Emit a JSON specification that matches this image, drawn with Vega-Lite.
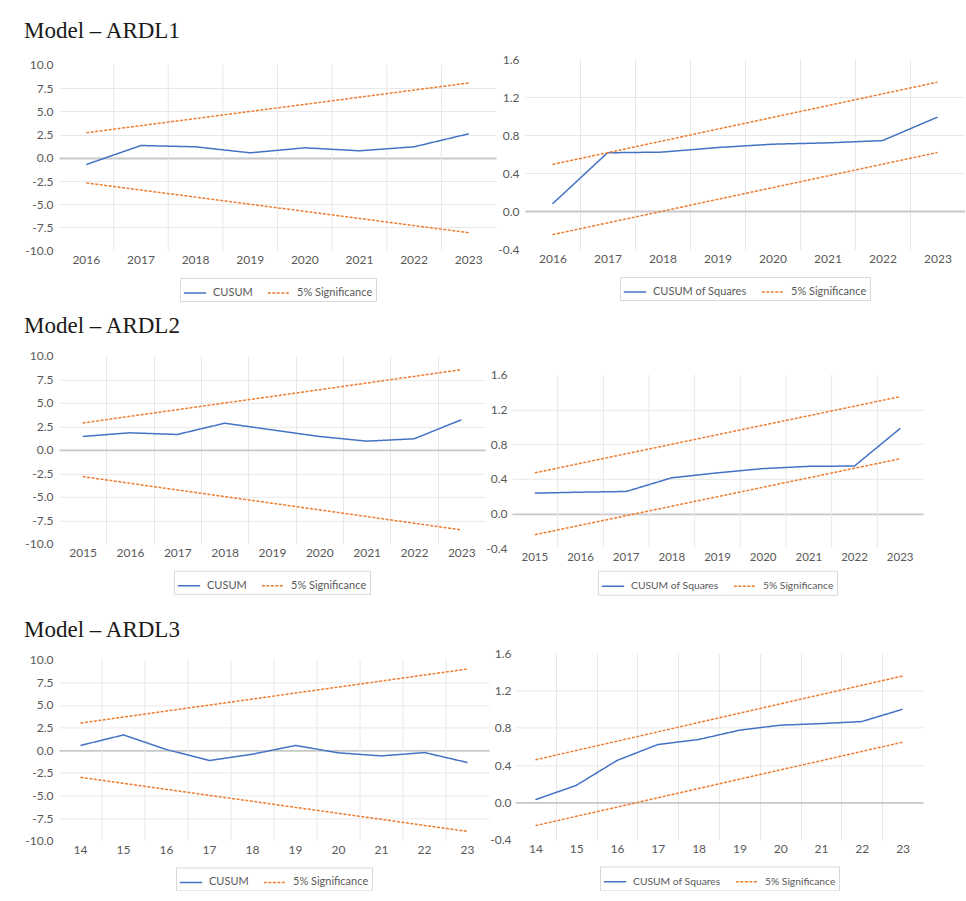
{
  "$schema": "https://vega.github.io/schema/vega-lite/v6.json",
  "padding": {"left": 24, "top": 19, "right": 0, "bottom": 0},
  "background": "#ffffff",
  "config": {
    "locale": {"number": {"decimal": ".", "thousands": ",", "grouping": [3], "currency": ["$", ""], "minus": "-"}},
    "view": {"stroke": null},
    "title": {"font": "Liberation Serif", "fontSize": 23, "fontWeight": "normal", "color": "#1a1a1a", "anchor": "start", "baseline": "alphabetic", "frame": "group"},
    "axis": {"labelFont": "Lato", "labelFontSize": 12, "labelColor": "#595959", "domain": false, "ticks": false, "title": null, "gridColor": "#e8e8e8"},
    "legend": {"orient": "bottom", "direction": "horizontal", "title": null, "strokeColor": "#d9d9d9", "padding": 3, "symbolType": "stroke", "symbolSize": 500, "symbolStrokeWidth": 1.5, "labelFont": "Lato", "labelFontSize": 11, "labelColor": "#595959", "columnPadding": 11, "labelOffset": 6, "offset": 12, "layout": {"bottom": {"anchor": "middle"}}}
  },
  "datasets": {
    "a1": [
      {"x":"2016","s":"CUSUM","b":"c","v":-0.72},{"x":"2017","s":"CUSUM","b":"c","v":1.33},{"x":"2018","s":"CUSUM","b":"c","v":1.19},{"x":"2019","s":"CUSUM","b":"c","v":0.54},{"x":"2020","s":"CUSUM","b":"c","v":1.08},{"x":"2021","s":"CUSUM","b":"c","v":0.76},{"x":"2022","s":"CUSUM","b":"c","v":1.19},{"x":"2023","s":"CUSUM","b":"c","v":2.59},
      {"x":"2016","s":"5% Significance","b":"u","v":2.70},{"x":"2017","s":"5% Significance","b":"u","v":3.47},{"x":"2018","s":"5% Significance","b":"u","v":4.23},{"x":"2019","s":"5% Significance","b":"u","v":5.00},{"x":"2020","s":"5% Significance","b":"u","v":5.76},{"x":"2021","s":"5% Significance","b":"u","v":6.53},{"x":"2022","s":"5% Significance","b":"u","v":7.30},{"x":"2023","s":"5% Significance","b":"u","v":8.06},
      {"x":"2016","s":"5% Significance","b":"l","v":-2.70},{"x":"2017","s":"5% Significance","b":"l","v":-3.47},{"x":"2018","s":"5% Significance","b":"l","v":-4.23},{"x":"2019","s":"5% Significance","b":"l","v":-5.00},{"x":"2020","s":"5% Significance","b":"l","v":-5.76},{"x":"2021","s":"5% Significance","b":"l","v":-6.53},{"x":"2022","s":"5% Significance","b":"l","v":-7.30},{"x":"2023","s":"5% Significance","b":"l","v":-8.06}
    ],
    "b1": [
      {"x":"2016","s":"CUSUM of Squares","b":"c","v":0.08},{"x":"2017","s":"CUSUM of Squares","b":"c","v":0.616},{"x":"2018","s":"CUSUM of Squares","b":"c","v":0.623},{"x":"2019","s":"CUSUM of Squares","b":"c","v":0.671},{"x":"2020","s":"CUSUM of Squares","b":"c","v":0.706},{"x":"2021","s":"CUSUM of Squares","b":"c","v":0.72},{"x":"2022","s":"CUSUM of Squares","b":"c","v":0.744},{"x":"2023","s":"CUSUM of Squares","b":"c","v":0.99},
      {"x":"2016","s":"5% Significance","b":"u","v":0.494},{"x":"2017","s":"5% Significance","b":"u","v":0.617},{"x":"2018","s":"5% Significance","b":"u","v":0.740},{"x":"2019","s":"5% Significance","b":"u","v":0.864},{"x":"2020","s":"5% Significance","b":"u","v":0.987},{"x":"2021","s":"5% Significance","b":"u","v":1.110},{"x":"2022","s":"5% Significance","b":"u","v":1.234},{"x":"2023","s":"5% Significance","b":"u","v":1.357},
      {"x":"2016","s":"5% Significance","b":"l","v":-0.243},{"x":"2017","s":"5% Significance","b":"l","v":-0.120},{"x":"2018","s":"5% Significance","b":"l","v":0.003},{"x":"2019","s":"5% Significance","b":"l","v":0.127},{"x":"2020","s":"5% Significance","b":"l","v":0.250},{"x":"2021","s":"5% Significance","b":"l","v":0.373},{"x":"2022","s":"5% Significance","b":"l","v":0.496},{"x":"2023","s":"5% Significance","b":"l","v":0.619}
    ],
    "a2": [
      {"x":"2015","s":"CUSUM","b":"c","v":1.42},{"x":"2016","s":"CUSUM","b":"c","v":1.81},{"x":"2017","s":"CUSUM","b":"c","v":1.63},{"x":"2018","s":"CUSUM","b":"c","v":2.83},{"x":"2019","s":"CUSUM","b":"c","v":2.12},{"x":"2020","s":"CUSUM","b":"c","v":1.42},{"x":"2021","s":"CUSUM","b":"c","v":0.92},{"x":"2022","s":"CUSUM","b":"c","v":1.17},{"x":"2023","s":"CUSUM","b":"c","v":3.19},
      {"x":"2015","s":"5% Significance","b":"u","v":2.85},{"x":"2016","s":"5% Significance","b":"u","v":3.56},{"x":"2017","s":"5% Significance","b":"u","v":4.27},{"x":"2018","s":"5% Significance","b":"u","v":4.98},{"x":"2019","s":"5% Significance","b":"u","v":5.68},{"x":"2020","s":"5% Significance","b":"u","v":6.39},{"x":"2021","s":"5% Significance","b":"u","v":7.10},{"x":"2022","s":"5% Significance","b":"u","v":7.81},{"x":"2023","s":"5% Significance","b":"u","v":8.52},
      {"x":"2015","s":"5% Significance","b":"l","v":-2.85},{"x":"2016","s":"5% Significance","b":"l","v":-3.56},{"x":"2017","s":"5% Significance","b":"l","v":-4.27},{"x":"2018","s":"5% Significance","b":"l","v":-4.98},{"x":"2019","s":"5% Significance","b":"l","v":-5.68},{"x":"2020","s":"5% Significance","b":"l","v":-6.39},{"x":"2021","s":"5% Significance","b":"l","v":-7.10},{"x":"2022","s":"5% Significance","b":"l","v":-7.81},{"x":"2023","s":"5% Significance","b":"l","v":-8.52}
    ],
    "b2": [
      {"x":"2015","s":"CUSUM of Squares","b":"c","v":0.234},{"x":"2016","s":"CUSUM of Squares","b":"c","v":0.245},{"x":"2017","s":"CUSUM of Squares","b":"c","v":0.253},{"x":"2018","s":"CUSUM of Squares","b":"c","v":0.411},{"x":"2019","s":"CUSUM of Squares","b":"c","v":0.468},{"x":"2020","s":"CUSUM of Squares","b":"c","v":0.517},{"x":"2021","s":"CUSUM of Squares","b":"c","v":0.543},{"x":"2022","s":"CUSUM of Squares","b":"c","v":0.547},{"x":"2023","s":"CUSUM of Squares","b":"c","v":0.98},
      {"x":"2015","s":"5% Significance","b":"u","v":0.468},{"x":"2016","s":"5% Significance","b":"u","v":0.578},{"x":"2017","s":"5% Significance","b":"u","v":0.688},{"x":"2018","s":"5% Significance","b":"u","v":0.798},{"x":"2019","s":"5% Significance","b":"u","v":0.908},{"x":"2020","s":"5% Significance","b":"u","v":1.018},{"x":"2021","s":"5% Significance","b":"u","v":1.127},{"x":"2022","s":"5% Significance","b":"u","v":1.237},{"x":"2023","s":"5% Significance","b":"u","v":1.347},
      {"x":"2015","s":"5% Significance","b":"l","v":-0.245},{"x":"2016","s":"5% Significance","b":"l","v":-0.136},{"x":"2017","s":"5% Significance","b":"l","v":-0.026},{"x":"2018","s":"5% Significance","b":"l","v":0.083},{"x":"2019","s":"5% Significance","b":"l","v":0.193},{"x":"2020","s":"5% Significance","b":"l","v":0.302},{"x":"2021","s":"5% Significance","b":"l","v":0.411},{"x":"2022","s":"5% Significance","b":"l","v":0.521},{"x":"2023","s":"5% Significance","b":"l","v":0.630}
    ],
    "a3": [
      {"x":"14","s":"CUSUM","b":"c","v":0.52},{"x":"15","s":"CUSUM","b":"c","v":1.69},{"x":"16","s":"CUSUM","b":"c","v":0.07},{"x":"17","s":"CUSUM","b":"c","v":-1.14},{"x":"18","s":"CUSUM","b":"c","v":-0.44},{"x":"19","s":"CUSUM","b":"c","v":0.52},{"x":"20","s":"CUSUM","b":"c","v":-0.29},{"x":"21","s":"CUSUM","b":"c","v":-0.63},{"x":"22","s":"CUSUM","b":"c","v":-0.26},{"x":"23","s":"CUSUM","b":"c","v":-1.36},
      {"x":"14","s":"5% Significance","b":"u","v":3.00},{"x":"15","s":"5% Significance","b":"u","v":3.66},{"x":"16","s":"5% Significance","b":"u","v":4.33},{"x":"17","s":"5% Significance","b":"u","v":4.99},{"x":"18","s":"5% Significance","b":"u","v":5.65},{"x":"19","s":"5% Significance","b":"u","v":6.32},{"x":"20","s":"5% Significance","b":"u","v":6.98},{"x":"21","s":"5% Significance","b":"u","v":7.64},{"x":"22","s":"5% Significance","b":"u","v":8.31},{"x":"23","s":"5% Significance","b":"u","v":8.97},
      {"x":"14","s":"5% Significance","b":"l","v":-3.00},{"x":"15","s":"5% Significance","b":"l","v":-3.66},{"x":"16","s":"5% Significance","b":"l","v":-4.33},{"x":"17","s":"5% Significance","b":"l","v":-4.99},{"x":"18","s":"5% Significance","b":"l","v":-5.65},{"x":"19","s":"5% Significance","b":"l","v":-6.32},{"x":"20","s":"5% Significance","b":"l","v":-6.98},{"x":"21","s":"5% Significance","b":"l","v":-7.64},{"x":"22","s":"5% Significance","b":"l","v":-8.31},{"x":"23","s":"5% Significance","b":"l","v":-8.97}
    ],
    "b3": [
      {"x":"14","s":"CUSUM of Squares","b":"c","v":0.029},{"x":"15","s":"CUSUM of Squares","b":"c","v":0.182},{"x":"16","s":"CUSUM of Squares","b":"c","v":0.45},{"x":"17","s":"CUSUM of Squares","b":"c","v":0.621},{"x":"18","s":"CUSUM of Squares","b":"c","v":0.675},{"x":"19","s":"CUSUM of Squares","b":"c","v":0.775},{"x":"20","s":"CUSUM of Squares","b":"c","v":0.829},{"x":"21","s":"CUSUM of Squares","b":"c","v":0.846},{"x":"22","s":"CUSUM of Squares","b":"c","v":0.868},{"x":"23","s":"CUSUM of Squares","b":"c","v":1.0},
      {"x":"14","s":"5% Significance","b":"u","v":0.457},{"x":"15","s":"5% Significance","b":"u","v":0.557},{"x":"16","s":"5% Significance","b":"u","v":0.657},{"x":"17","s":"5% Significance","b":"u","v":0.757},{"x":"18","s":"5% Significance","b":"u","v":0.857},{"x":"19","s":"5% Significance","b":"u","v":0.957},{"x":"20","s":"5% Significance","b":"u","v":1.057},{"x":"21","s":"5% Significance","b":"u","v":1.157},{"x":"22","s":"5% Significance","b":"u","v":1.257},{"x":"23","s":"5% Significance","b":"u","v":1.357},
      {"x":"14","s":"5% Significance","b":"l","v":-0.25},{"x":"15","s":"5% Significance","b":"l","v":-0.150},{"x":"16","s":"5% Significance","b":"l","v":-0.051},{"x":"17","s":"5% Significance","b":"l","v":0.049},{"x":"18","s":"5% Significance","b":"l","v":0.148},{"x":"19","s":"5% Significance","b":"l","v":0.248},{"x":"20","s":"5% Significance","b":"l","v":0.348},{"x":"21","s":"5% Significance","b":"l","v":0.447},{"x":"22","s":"5% Significance","b":"l","v":0.547},{"x":"23","s":"5% Significance","b":"l","v":0.646}
    ]
  },
  "resolve": {"scale": {"color": "independent", "strokeDash": "independent", "x": "independent", "y": "independent"}, "legend": {"color": "independent", "strokeDash": "independent"}},
  "columns": 1,
  "align": "none",
  "spacing": 22.4,
  "concat": [
    {
      "resolve": {"scale": {"color": "independent", "strokeDash": "independent", "x": "independent", "y": "independent"}, "legend": {"color": "independent", "strokeDash": "independent"}},
      "columns": 1,
      "align": "none",
      "spacing": 12.8,
      "concat": [
        {
          "resolve": {"scale": {"color": "independent", "strokeDash": "independent", "x": "independent", "y": "independent"}, "legend": {"color": "independent", "strokeDash": "independent"}},
          "columns": 2,
          "align": "none",
          "spacing": 1,
          "concat": [
            {
              "width": 437, "height": 191.7,
              "title": {"text": "Model – ARDL1", "dx": -35, "offset": 16.3},
              "data": {"name": "a1"},
              "layer": [
                {
                  "transform": [{"filter": "datum.b === 'c' && datum.x !== '2016'"}],
                  "mark": {"type": "rule", "color": "#e8e8e8", "strokeWidth": 1},
                  "encoding": {
                    "x": {"field": "x", "type": "ordinal", "bandPosition": 0, "scale": {"type": "band", "paddingInner": 0, "paddingOuter": 0}, "axis": {"labelAngle": 0, "labelPadding": 3.5, "grid": false, "bandPosition": 0.5}},
                    "y": {"datum": 10, "type": "quantitative", "scale": {"domain": [-10, 10.646], "nice": false}, "axis": {"values": [-10, -7.5, -5, -2.5, 0, 2.5, 5, 7.5, 10], "format": ".1f", "labelPadding": 6, "labelOverlap": false, "grid": true, "gridColor": {"condition": {"test": "datum.value === 0", "value": "#c8c8c8"}, "value": "#e8e8e8"}, "gridWidth": {"condition": {"test": "datum.value === 0", "value": 1.8}, "value": 1}, "gridOpacity": {"condition": {"test": "datum.value > 9.9 || datum.value < -9.9", "value": 0}, "value": 1}}},
                    "y2": {"datum": -10}
                  }
                },
                {
                  "mark": {"type": "line", "strokeWidth": 1.5},
                  "encoding": {
                    "x": {"field": "x", "type": "ordinal", "bandPosition": 0.5, "scale": {"type": "band", "paddingInner": 0, "paddingOuter": 0}, "axis": {"labelAngle": 0, "labelPadding": 3.5, "grid": false, "bandPosition": 0.5}},
                    "y": {"field": "v", "type": "quantitative", "scale": {"domain": [-10, 10.646], "nice": false}, "axis": {"values": [-10, -7.5, -5, -2.5, 0, 2.5, 5, 7.5, 10], "format": ".1f", "labelPadding": 6, "labelOverlap": false, "grid": true, "gridColor": {"condition": {"test": "datum.value === 0", "value": "#c8c8c8"}, "value": "#e8e8e8"}, "gridWidth": {"condition": {"test": "datum.value === 0", "value": 1.8}, "value": 1}, "gridOpacity": {"condition": {"test": "datum.value > 9.9 || datum.value < -9.9", "value": 0}, "value": 1}}},
                    "color": {"field": "s", "type": "nominal", "scale": {"domain": ["CUSUM", "5% Significance"], "range": ["#4472C4", "#ED7D31"]}},
                    "strokeDash": {"field": "s", "type": "nominal", "scale": {"domain": ["CUSUM", "5% Significance"], "range": [[1, 0], [3, 1.5]]}},
                    "detail": {"field": "b"}
                  }
                }
              ]
            },
            {
              "width": 440, "height": 190.6,
              "data": {"name": "b1"},
              "mark": {"type": "line", "strokeWidth": 1.5},
              "encoding": {
                "x": {"field": "x", "type": "ordinal", "bandPosition": 0.5, "scale": {"type": "band", "paddingInner": 0, "paddingOuter": 0}, "axis": {"labelAngle": 0, "tickBand": "extent", "labelPadding": 4, "grid": true, "gridOpacity": {"condition": {"test": "datum.extra || datum.value === '2023'", "value": 0}, "value": 1}}},
                "y": {"field": "v", "type": "quantitative", "scale": {"domain": [-0.4, 1.6], "nice": false, "zero": false}, "axis": {"values": [-0.4, 0, 0.4, 0.8, 1.2, 1.6], "format": ".1f", "labelPadding": 6, "grid": true, "gridColor": {"condition": {"test": "datum.value === 0", "value": "#c8c8c8"}, "value": "#e8e8e8"}, "gridWidth": {"condition": {"test": "datum.value === 0", "value": 1.8}, "value": 1}, "gridOpacity": {"condition": {"test": "datum.value > 1.55 || datum.value < -0.35", "value": 0}, "value": 1}}},
                "color": {"field": "s", "type": "nominal", "scale": {"domain": ["CUSUM of Squares", "5% Significance"], "range": ["#4472C4", "#ED7D31"]}},
                "strokeDash": {"field": "s", "type": "nominal", "scale": {"domain": ["CUSUM of Squares", "5% Significance"], "range": [[1, 0], [3, 1.5]]}},
                "detail": {"field": "b"}
              }
            }
          ]
        },
        {
          "resolve": {"scale": {"color": "independent", "strokeDash": "independent", "x": "independent", "y": "independent"}, "legend": {"color": "independent", "strokeDash": "independent"}},
          "columns": 2,
          "align": "none",
          "spacing": 0,
          "concat": [
            {
              "width": 426, "height": 188,
              "title": {"text": "Model – ARDL2", "dx": -35, "offset": 11.6},
              "data": {"name": "a2"},
              "mark": {"type": "line", "strokeWidth": 1.5},
              "encoding": {
                "x": {"field": "x", "type": "ordinal", "bandPosition": 0.5, "scale": {"type": "band", "paddingInner": 0, "paddingOuter": 0}, "axis": {"labelAngle": 0, "tickBand": "extent", "labelPadding": 3.5, "grid": true, "gridOpacity": {"condition": {"test": "datum.extra || datum.value === '2023'", "value": 0}, "value": 1}}},
                "y": {"field": "v", "type": "quantitative", "scale": {"domain": [-10, 10], "nice": false}, "axis": {"values": [-10, -7.5, -5, -2.5, 0, 2.5, 5, 7.5, 10], "format": ".1f", "labelPadding": 6, "grid": true, "gridColor": {"condition": {"test": "datum.value === 0", "value": "#c8c8c8"}, "value": "#e8e8e8"}, "gridWidth": {"condition": {"test": "datum.value === 0", "value": 1.8}, "value": 1}, "gridOpacity": {"condition": {"test": "datum.value > 9.9 || datum.value < -9.9", "value": 0}, "value": 1}}},
                "color": {"field": "s", "type": "nominal", "scale": {"domain": ["CUSUM", "5% Significance"], "range": ["#4472C4", "#ED7D31"]}},
                "strokeDash": {"field": "s", "type": "nominal", "scale": {"domain": ["CUSUM", "5% Significance"], "range": [[1, 0], [3, 1.5]]}},
                "detail": {"field": "b"}
              }
            },
            {
              "width": 411, "height": 192.3,
              "data": {"name": "b2"},
              "layer": [
                {
                  "transform": [{"filter": "datum.b === 'c' && datum.x !== '2015'"}],
                  "mark": {"type": "rule", "color": "#e8e8e8", "strokeWidth": 1},
                  "encoding": {
                    "x": {"field": "x", "type": "ordinal", "bandPosition": 0, "scale": {"type": "band", "paddingInner": 0, "paddingOuter": 0}, "axis": {"labelAngle": 0, "labelPadding": 3.5, "labelFontSize": 11.5, "grid": false, "bandPosition": 0.5}},
                    "y": {"datum": 1.6, "type": "quantitative", "scale": {"domain": [-0.4, 1.818], "nice": false, "zero": false}, "axis": {"values": [-0.4, 0, 0.4, 0.8, 1.2, 1.6], "format": ".1f", "labelPadding": 5, "labelOverlap": false, "grid": true, "gridColor": {"condition": {"test": "datum.value === 0", "value": "#c8c8c8"}, "value": "#e8e8e8"}, "gridWidth": {"condition": {"test": "datum.value === 0", "value": 1.8}, "value": 1}, "gridOpacity": {"condition": {"test": "datum.value > 1.55 || datum.value < -0.35", "value": 0}, "value": 1}}},
                    "y2": {"datum": -0.4}
                  }
                },
                {
                  "mark": {"type": "line", "strokeWidth": 1.5},
                  "encoding": {
                    "x": {"field": "x", "type": "ordinal", "bandPosition": 0.5, "scale": {"type": "band", "paddingInner": 0, "paddingOuter": 0}, "axis": {"labelAngle": 0, "labelPadding": 3.5, "labelFontSize": 11.5, "grid": false, "bandPosition": 0.5}},
                    "y": {"field": "v", "type": "quantitative", "scale": {"domain": [-0.4, 1.818], "nice": false, "zero": false}, "axis": {"values": [-0.4, 0, 0.4, 0.8, 1.2, 1.6], "format": ".1f", "labelPadding": 5, "labelOverlap": false, "grid": true, "gridColor": {"condition": {"test": "datum.value === 0", "value": "#c8c8c8"}, "value": "#e8e8e8"}, "gridWidth": {"condition": {"test": "datum.value === 0", "value": 1.8}, "value": 1}, "gridOpacity": {"condition": {"test": "datum.value > 1.55 || datum.value < -0.35", "value": 0}, "value": 1}}},
                    "color": {"field": "s", "type": "nominal", "scale": {"domain": ["CUSUM of Squares", "5% Significance"], "range": ["#4472C4", "#ED7D31"]}, "legend": {"labelFontSize": 10.3, "offset": 7}},
                    "strokeDash": {"field": "s", "type": "nominal", "scale": {"domain": ["CUSUM of Squares", "5% Significance"], "range": [[1, 0], [3, 1.5]]}, "legend": {"labelFontSize": 10.3, "offset": 7}},
                    "detail": {"field": "b"}
                  }
                }
              ]
            }
          ]
        }
      ]
    },
    {
      "resolve": {"scale": {"color": "independent", "strokeDash": "independent", "x": "independent", "y": "independent"}, "legend": {"color": "independent", "strokeDash": "independent"}},
      "columns": 2,
      "align": "none",
      "spacing": 0,
      "concat": [
        {
          "width": 430, "height": 187.3,
          "title": {"text": "Model – ARDL3", "dx": -35, "offset": 11.1},
          "data": {"name": "a3"},
          "layer": [
            {
              "transform": [{"filter": "datum.b === 'c' && datum.x !== '14'"}],
              "mark": {"type": "rule", "color": "#e8e8e8", "strokeWidth": 1},
              "encoding": {
                "x": {"field": "x", "type": "ordinal", "bandPosition": 0, "scale": {"type": "band", "paddingInner": 0, "paddingOuter": 0}, "axis": {"labelAngle": 0, "labelPadding": 3.5, "grid": false, "bandPosition": 0.5}},
                "y": {"datum": 10, "type": "quantitative", "scale": {"domain": [-10, 10.696], "nice": false}, "axis": {"values": [-10, -7.5, -5, -2.5, 0, 2.5, 5, 7.5, 10], "format": ".1f", "labelPadding": 6, "labelOverlap": false, "grid": true, "gridColor": {"condition": {"test": "datum.value === 0", "value": "#c8c8c8"}, "value": "#e8e8e8"}, "gridWidth": {"condition": {"test": "datum.value === 0", "value": 1.8}, "value": 1}, "gridOpacity": {"condition": {"test": "datum.value > 9.9 || datum.value < -9.9", "value": 0}, "value": 1}}},
                "y2": {"datum": -10}
              }
            },
            {
              "mark": {"type": "line", "strokeWidth": 1.5},
              "encoding": {
                "x": {"field": "x", "type": "ordinal", "bandPosition": 0.5, "scale": {"type": "band", "paddingInner": 0, "paddingOuter": 0}, "axis": {"labelAngle": 0, "labelPadding": 3.5, "grid": false, "bandPosition": 0.5}},
                "y": {"field": "v", "type": "quantitative", "scale": {"domain": [-10, 10.696], "nice": false}, "axis": {"values": [-10, -7.5, -5, -2.5, 0, 2.5, 5, 7.5, 10], "format": ".1f", "labelPadding": 6, "labelOverlap": false, "grid": true, "gridColor": {"condition": {"test": "datum.value === 0", "value": "#c8c8c8"}, "value": "#e8e8e8"}, "gridWidth": {"condition": {"test": "datum.value === 0", "value": 1.8}, "value": 1}, "gridOpacity": {"condition": {"test": "datum.value > 9.9 || datum.value < -9.9", "value": 0}, "value": 1}}},
                "color": {"field": "s", "type": "nominal", "scale": {"domain": ["CUSUM", "5% Significance"], "range": ["#4472C4", "#ED7D31"]}},
                "strokeDash": {"field": "s", "type": "nominal", "scale": {"domain": ["CUSUM", "5% Significance"], "range": [[1, 0], [3, 1.5]]}},
                "detail": {"field": "b"}
              }
            }
          ]
        },
        {
          "width": 408, "height": 186.2,
          "data": {"name": "b3"},
          "mark": {"type": "line", "strokeWidth": 1.5},
          "encoding": {
            "x": {"field": "x", "type": "ordinal", "bandPosition": 0.5, "scale": {"type": "band", "paddingInner": 0, "paddingOuter": 0}, "axis": {"labelAngle": 0, "tickBand": "extent", "labelPadding": 3.5, "grid": true, "gridOpacity": {"condition": {"test": "datum.extra || datum.value === '23'", "value": 0}, "value": 1}}},
            "y": {"field": "v", "type": "quantitative", "scale": {"domain": [-0.4, 1.6], "nice": false, "zero": false}, "axis": {"values": [-0.4, 0, 0.4, 0.8, 1.2, 1.6], "format": ".1f", "labelPadding": 4, "grid": true, "gridColor": {"condition": {"test": "datum.value === 0", "value": "#c8c8c8"}, "value": "#e8e8e8"}, "gridWidth": {"condition": {"test": "datum.value === 0", "value": 1.8}, "value": 1}, "gridOpacity": {"condition": {"test": "datum.value > 1.55 || datum.value < -0.35", "value": 0}, "value": 1}}},
            "color": {"field": "s", "type": "nominal", "scale": {"domain": ["CUSUM of Squares", "5% Significance"], "range": ["#4472C4", "#ED7D31"]}, "legend": {"labelFontSize": 10.3}},
            "strokeDash": {"field": "s", "type": "nominal", "scale": {"domain": ["CUSUM of Squares", "5% Significance"], "range": [[1, 0], [3, 1.5]]}, "legend": {"labelFontSize": 10.3}},
            "detail": {"field": "b"}
          }
        }
      ]
    }
  ]
}
